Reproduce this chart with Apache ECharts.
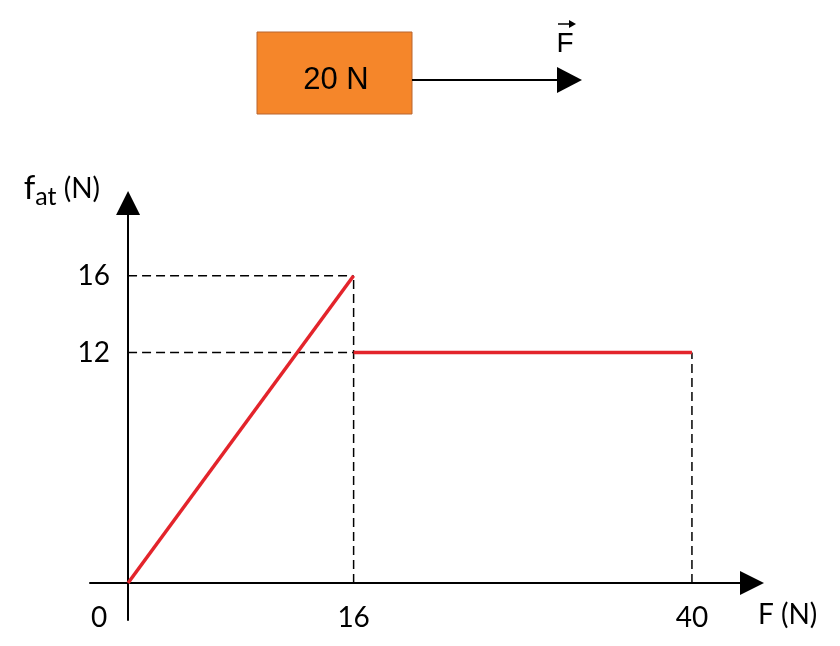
<!DOCTYPE html>
<html>
<head>
<meta charset="utf-8">
<script src="https://cdn.jsdelivr.net/npm/echarts@6/dist/echarts.min.js"></script>
<style>
  html, body { margin: 0; padding: 0; background: #fff; }
  #chart { width: 840px; height: 646px; }
</style>
</head>
<body>
<div id="chart"></div>
<script>
// data
const risePoints = [[0, 0], [16, 16]];   // static friction grows with F
const flatPoints = [[16, 12], [40, 12]];  // kinetic friction stays at 12 N
const xTickValues = [0, 16, 40];
const yTickValues = [12, 16];
const guideToYAxis = [[16, 16], [16, 12]]; // horizontal dashed lines
const guideToXAxis = [[16, 16], [40, 12]]; // vertical dashed lines

const FONT = 'Lato';
const RED = '#E3242B';

const dashed = {
  color: '#000',
  width: 1.5,
  type: [9, 5]
};

const guideSeries = [];
guideToYAxis.forEach(p => {
  guideSeries.push({
    type: 'line',
    data: [[0, p[1]], p],
    symbol: 'none',
    lineStyle: dashed,
    silent: true,
    z: 1
  });
});
guideToXAxis.forEach(p => {
  guideSeries.push({
    type: 'line',
    data: [[p[0], 0], p],
    symbol: 'none',
    lineStyle: dashed,
    silent: true,
    z: 1
  });
});

const chart = echarts.init(document.getElementById('chart'));

const option = {
  animation: false,
  backgroundColor: '#fff',
  grid: { left: 90, right: 88, top: 203, bottom: 26, outerBoundsMode: 'none', containLabel: false },
  xAxis: {
    type: 'value',
    min: -2.7,
    max: 44.26,
    splitLine: { show: false },
    axisTick: { show: false },
    axisLine: {
      onZero: true,
      symbol: ['none', 'triangle'],
      symbolSize: [24, 24],
      lineStyle: { color: '#000', width: 2 }
    },
    axisLabel: {
      customValues: xTickValues,
      margin: -16,
      color: '#000',
      fontFamily: FONT,
      fontSize: 28,
      formatter: v => (v === 0 ? '{z|0}' : String(v)),
      rich: {
        z: { fontFamily: FONT, fontSize: 28, color: '#000', padding: [0, 58, 0, 0] }
      }
    },
    name: 'F (N)',
    nameLocation: 'end',
    nameGap: 6,
    nameTextStyle: {
      color: '#000',
      fontFamily: FONT,
      fontSize: 28,
      align: 'left',
      verticalAlign: 'top',
      padding: [18, 0, 0, 0]
    }
  },
  yAxis: {
    type: 'value',
    min: -1.93,
    max: 19.79,
    splitLine: { show: false },
    axisTick: { show: false },
    axisLine: {
      onZero: true,
      symbol: ['none', 'triangle'],
      symbolSize: [24, 24],
      lineStyle: { color: '#000', width: 2 }
    },
    axisLabel: {
      customValues: yTickValues,
      margin: -20,
      color: '#000',
      fontFamily: FONT,
      fontSize: 28
    },
    name: '{f|f}{s|at}{n| (N)}',
    nameLocation: 'end',
    nameGap: -6,
    nameTextStyle: {
      align: 'right',
      verticalAlign: 'bottom',
      padding: [0, 28, 0, 0],
      rich: {
        f: { fontFamily: FONT, fontSize: 33, color: '#000' },
        s: { fontFamily: FONT, fontSize: 25, color: '#000', padding: [16, 0, 0, 0] },
        n: { fontFamily: FONT, fontSize: 28, color: '#000' }
      }
    }
  },
  series: guideSeries.concat([
    {
      type: 'line',
      data: risePoints,
      symbol: 'none',
      lineStyle: { color: RED, width: 3.5 },
      z: 3
    },
    {
      type: 'line',
      data: flatPoints,
      symbol: 'none',
      lineStyle: { color: RED, width: 3.5 },
      z: 3
    }
  ]),
  graphic: [
    {
      type: 'rect',
      shape: { x: 257, y: 32, width: 155, height: 82 },
      style: { fill: '#F5862A', stroke: '#B8652F', lineWidth: 1 }
    },
    {
      type: 'text',
      x: 336, y: 80,
      style: {
        text: '20 N',
        fill: '#000',
        font: '31px "Liberation Sans"',
        align: 'center',
        verticalAlign: 'middle'
      }
    },
    {
      type: 'line',
      shape: { x1: 412, y1: 80, x2: 560, y2: 80 },
      style: { stroke: '#000', lineWidth: 2 }
    },
    {
      type: 'polygon',
      shape: { points: [[557, 67], [582, 80], [557, 93]] },
      style: { fill: '#000' }
    },
    {
      type: 'text',
      x: 565, y: 44,
      style: {
        text: 'F',
        fill: '#000',
        font: '28px "Liberation Sans"',
        align: 'center',
        verticalAlign: 'middle'
      }
    },
    {
      type: 'line',
      shape: { x1: 558, y1: 24, x2: 571, y2: 24 },
      style: { stroke: '#000', lineWidth: 1.5 }
    },
    {
      type: 'polygon',
      shape: { points: [[569, 20], [576, 24], [569, 28]] },
      style: { fill: '#000' }
    }
  ]
};

chart.setOption(option);
</script>
</body>
</html>
